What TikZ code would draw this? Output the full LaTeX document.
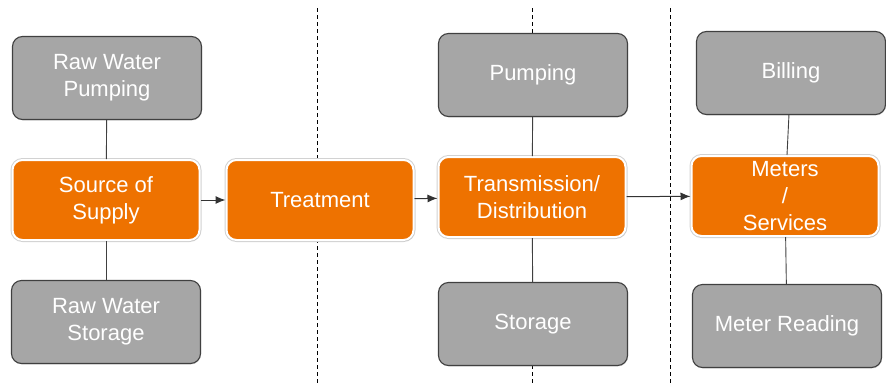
\documentclass[tikz,border=0pt]{standalone}
\usepackage{fontspec}
\setmainfont{Liberation Sans}
\usetikzlibrary{arrows.meta, shadows}

\definecolor{stageorange}{RGB}{238,114,0}
\definecolor{taskgray}{RGB}{166,166,166}
\definecolor{edgegray}{RGB}{64,64,64}

\begin{document}
\begin{tikzpicture}[x=1pt, y=-1pt,
        stage/.style={draw=white, line width=2pt, fill=stageorange, rounded corners=10pt,
                      minimum width=187pt, minimum height=80pt, text=white, align=center,
                      font=\fontsize{22}{27}\selectfont,
                      preaction={draw=gray!35, line width=4pt},
                      drop shadow={shadow xshift=0.8pt, shadow yshift=-1.2pt, opacity=0.3, fill=gray}},
        task/.style={draw=edgegray, line width=1.1pt, fill=taskgray, rounded corners=10pt,
                     minimum width=189pt, minimum height=83pt, text=white, align=center,
                     font=\fontsize{22}{27}\selectfont,
                     drop shadow={shadow xshift=0.6pt, shadow yshift=-1pt, opacity=0.25, fill=gray}},
        flow/.style={-{Latex[length=10pt, width=8pt]}, line width=1pt, draw=edgegray!80!black},
        link/.style={line width=0.9pt, draw=edgegray},
        divider/.style={dashed, dash pattern=on 4pt off 3pt, line width=0.8pt, black}]
        \useasboundingbox (0, 0) rectangle (886, 383);

        % separators between the stages
        \draw [divider] (317, 8) -- (317, 383);
        \draw [divider] (532, 8) -- (532, 383);
        \draw [divider] (670, 8) -- (670, 383);

        % main chain
        \node [stage] (source) at (106, 200) {Source of\\Supply};
        \node [stage] (treat) at (320, 200) {Treatment};
        \node [stage] (trans) at (532, 197) {Transmission/\\Distribution};
        \node [stage] (meters) at (785, 196) {Meters\\/\\Services};

        % supporting tasks
        \node [task] (rawpump) at (107, 78) {Raw Water\\Pumping};
        \node [task] (rawstore) at (106, 322) {Raw Water\\Storage};
        \node [task] (pump) at (533, 75) {Pumping};
        \node [task] (store) at (533, 324) {Storage};
        \node [task] (bill) at (791, 73) {Billing};
        \node [task] (reading) at (787, 326) {Meter Reading};

        \draw [flow] (source) -- (treat);
        \draw [flow] (treat) -- (trans);
        \draw [flow] (trans) -- (meters);

        \draw [link] (rawpump) -- (source);
        \draw [link] (source) -- (rawstore);
        \draw [link] (pump) -- (trans);
        \draw [link] (trans) -- (store);
        \draw [link] (bill) -- (meters);
        \draw [link] (meters) -- (reading);
    \end{tikzpicture}
\end{document}
